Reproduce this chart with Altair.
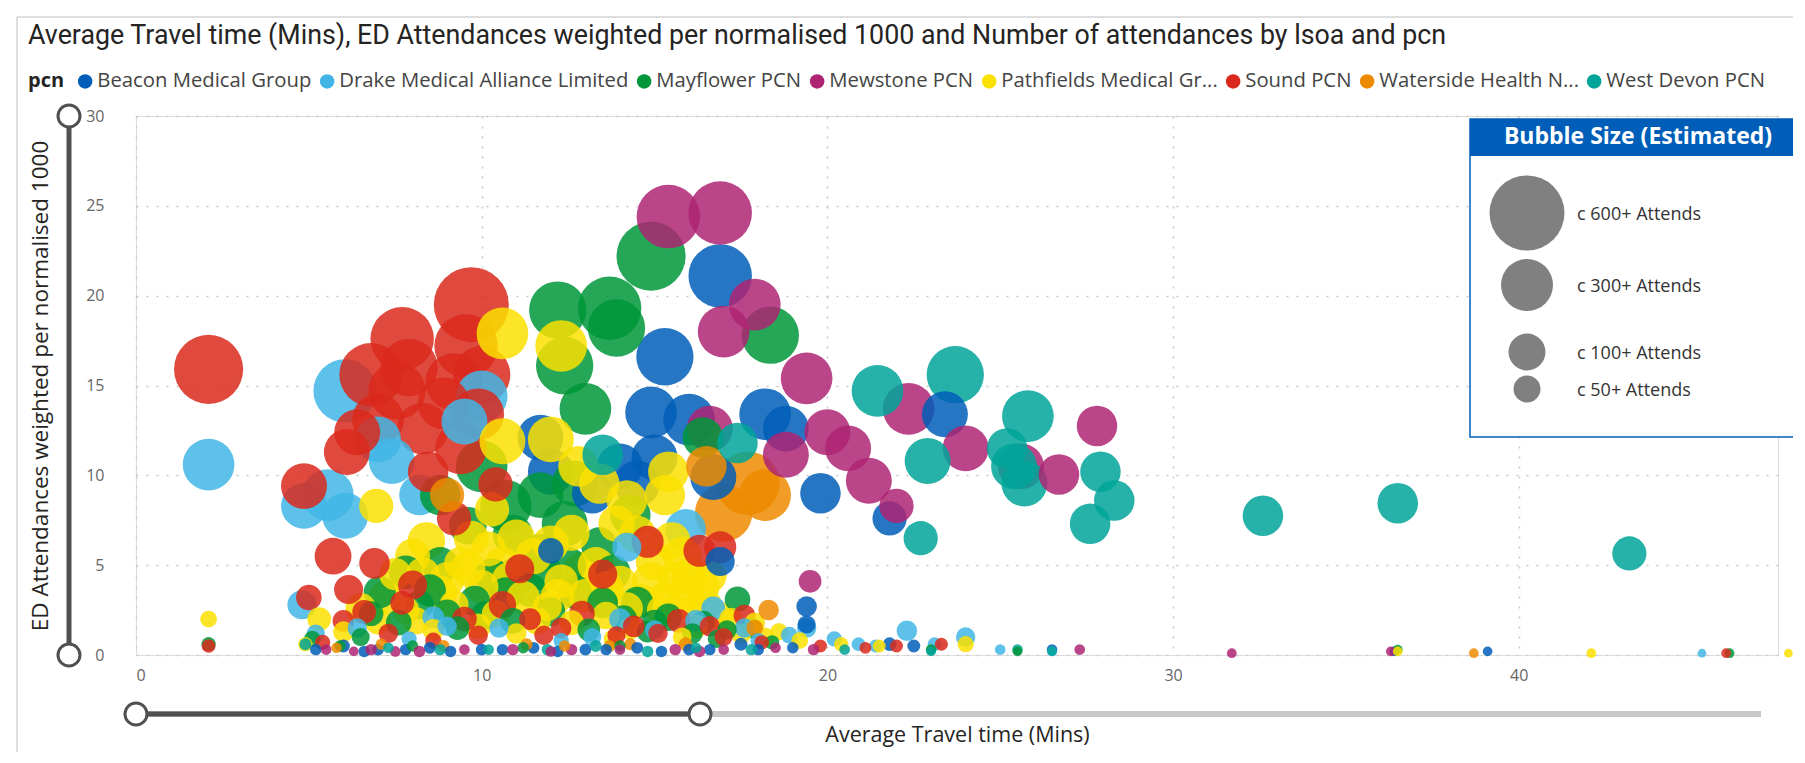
import altair as alt
import pandas as pd

# ---------------- data ----------------
pcn_names = ["Beacon Medical Group", "Drake Medical Alliance Limited", "Mayflower PCN",
             "Mewstone PCN", "Pathfields Medical Group", "Sound PCN",
             "Waterside Health Network", "West Devon PCN"]
pcn_colors = ["#005EB8", "#41B6E6", "#009639", "#AE2573", "#FAE100", "#DA291C",
              "#ED8B00", "#00A499"]

beacon_x = [16.9, 15.3, 14.9, 16.0, 18.2, 18.8, 11.7, 12.0, 14.0, 14.5, 16.7, 19.8, 23.4, 21.8, 16.9, 12.0, 13.2, 15.0,
            19.4, 19.4, 6.0, 7.0, 8.5, 10.0, 11.5, 13.0, 14.5, 16.0, 17.5, 21.8, 22.5, 26.5, 36.4, 39.1,
            5.2, 6.6, 7.8, 9.1, 10.6, 12.2, 13.6, 15.2, 16.6, 18.0, 19.0]
beacon_y = [21.1, 16.6, 13.5, 13.1, 13.4, 12.6, 12.1, 10.2, 10.5, 9.55, 9.9, 9.0, 13.4, 7.6, 5.2, 5.8, 9.0, 11.0,
            2.7, 1.7, 0.5, 0.3, 0.4, 0.3, 0.4, 0.3, 0.4, 0.3, 0.6, 0.6, 0.5, 0.3, 0.2, 0.2,
            0.3, 0.2, 0.3, 0.2, 0.3, 0.2, 0.3, 0.2, 0.3, 0.3, 0.4]
beacon_n = [430, 350, 285, 285, 285, 225, 225, 225, 225, 225, 225, 175, 225, 125, 90, 70, 175, 225,
            45, 35, 18, 15, 15, 15, 15, 15, 15, 15, 18, 20, 18, 12, 10, 10,
            14, 14, 14, 14, 14, 14, 14, 14, 14, 14, 14]

drake_x = [2.1, 6.05, 4.86, 5.55, 6.05, 7.4, 8.2, 10.0, 15.9, 4.8, 6.4, 7.9, 9.0, 12.3, 15.0, 17.6, 19.4, 20.9,
           22.3, 24.0, 25.0, 26.5, 45.3, 16.7, 14.2, 7.0, 9.5,
           5.2, 8.6, 10.5, 13.2, 14.0, 16.2, 18.9, 20.2, 21.4, 23.1, 18.0]
drake_y = [10.6, 14.7, 8.3, 8.9, 7.75, 10.8, 8.9, 14.4, 7.0, 2.8, 1.5, 0.9, 1.6, 0.8, 1.4, 1.5, 1.5, 0.6,
           1.35, 1.0, 0.3, 0.2, 0.1, 2.6, 6.0, 12.0, 13.0,
           1.2, 2.1, 1.5, 1.0, 2.0, 1.9, 1.1, 0.9, 0.5, 0.6, 0.8]
drake_n = [285, 430, 225, 285, 225, 225, 175, 285, 175, 90, 40, 25, 40, 25, 40, 40, 40, 20,
           45, 40, 12, 10, 8, 60, 90, 225, 225,
           35, 50, 40, 35, 50, 50, 30, 25, 18, 20, 25]

mayflower_x = [14.9, 13.7, 13.9, 12.2, 12.4, 18.35, 13.0, 10.0, 10.7, 11.7, 12.4, 8.8, 12.7, 11.0, 11.7, 16.4,
               7.05, 7.6, 8.2, 8.8, 9.3, 9.8, 10.3, 10.9, 11.4, 12.0, 12.5, 13.1, 13.5, 14.1, 14.8, 15.4, 16.1,
               16.8, 17.4, 17.8, 18.4, 6.5, 5.1, 2.1, 46.1, 36.5, 25.5, 23.0, 9.6, 14.3, 13.4,
               8.5, 9.0, 10.1, 10.7, 11.8, 12.7, 13.8, 14.5, 15.0, 16.4, 17.1, 6.8, 7.8, 10.9,
               5.9, 8.0, 11.2, 14.0]
mayflower_y = [22.2, 19.3, 18.2, 19.2, 16.1, 17.8, 13.7, 10.5, 8.3, 8.9, 7.3, 8.9, 9.55, 4.4, 5.7, 12.1,
               3.5, 1.8, 2.8, 5.0, 1.5, 3.0, 4.4, 1.9, 3.6, 2.4, 5.0, 1.4, 2.9, 2.0, 1.3, 2.1, 1.2,
               0.9, 3.1, 1.5, 0.7, 1.0, 0.9, 0.6, 0.1, 0.3, 0.2, 0.3, 7.2, 7.8, 6.1,
               3.6, 2.3, 2.2, 3.4, 4.6, 3.5, 4.6, 2.9, 1.8, 1.8, 1.4, 2.3, 4.6, 6.7,
               0.5, 0.5, 0.4, 0.5]
mayflower_n = [510, 430, 350, 350, 350, 350, 285, 285, 285, 225, 225, 175, 225, 150, 150, 175,
               110, 70, 90, 140, 60, 100, 130, 70, 120, 90, 140, 55, 100, 80, 50, 80, 45,
               35, 70, 45, 22, 35, 28, 22, 10, 10, 10, 12, 150, 175, 140,
               110, 85, 85, 120, 140, 120, 130, 110, 70, 60, 40, 65, 120, 170,
               14, 14, 14, 14]

mewstone_x = [15.4, 16.9, 17.0, 17.9, 19.4, 16.6, 18.8, 20.0, 20.6, 21.2, 22.0, 22.35, 24.0, 25.6, 26.7, 27.8,
              19.5, 5.5, 7.5, 9.5, 12.0, 14.0, 17.0, 18.5, 27.3, 31.7, 36.3, 6.3,
              6.8, 8.2, 10.9, 12.6, 15.6, 16.3, 19.6]
mewstone_y = [24.4, 24.6, 18.0, 19.5, 15.4, 12.6, 11.15, 12.4, 11.5, 9.7, 8.3, 13.7, 11.5, 10.5, 10.05, 12.75,
              4.1, 0.3, 0.2, 0.3, 0.2, 0.3, 0.3, 0.4, 0.3, 0.1, 0.2, 0.2,
              0.3, 0.2, 0.3, 0.3, 0.3, 0.2, 0.3]
mewstone_n = [430, 430, 285, 285, 285, 225, 225, 225, 225, 225, 125, 285, 225, 225, 175, 175,
              55, 12, 12, 12, 12, 12, 12, 12, 12, 10, 10, 10,
              14, 14, 14, 14, 14, 14, 14]

pathfields_x = [10.6, 12.3, 10.6, 12.0, 12.8, 13.4, 14.2, 15.4, 15.3, 10.3, 6.95, 8.4, 9.4, 11.0, 12.6, 14.5,
                15.5, 16.0, 16.4, 13.9, 10.2, 8.0, 7.5, 2.1, 7.2, 7.8, 8.3, 8.8, 9.2, 9.6, 10.0, 10.4, 10.8,
                11.2, 11.5, 11.9, 12.3, 12.6, 13.0, 13.3, 13.6, 14.0, 14.3, 14.6, 15.0, 15.2, 15.6, 15.9, 16.2,
                16.5, 16.9, 17.5, 18.2, 19.2, 20.4, 21.5, 5.3, 6.0, 4.9, 8.6, 11.0, 13.8, 15.8, 24.0, 42.1,
                47.8, 36.5,
                6.5, 7.0, 8.1, 9.0, 9.9, 10.6, 11.6, 12.2, 12.9, 13.6, 14.2, 14.9, 15.3, 15.8, 16.1, 16.6,
                17.2, 17.9, 18.6, 12.0, 9.7]
pathfields_y = [17.9, 17.2, 11.9, 12.0, 10.5, 9.55, 8.6, 10.2, 8.9, 8.1, 8.3, 6.35, 5.1, 6.5, 6.8, 6.7,
                6.35, 4.4, 3.8, 7.3, 5.9, 5.5, 4.5, 2.0, 3.2, 2.5, 4.5, 3.5, 2.8, 4.8, 3.8, 2.3, 4.2,
                3.2, 5.5, 2.7, 4.1, 1.8, 3.3, 5.0, 2.2, 4.0, 1.5, 3.0, 5.2, 2.5, 4.2, 3.4, 1.6,
                2.8, 2.2, 1.2, 1.0, 0.8, 0.6, 0.5, 2.0, 1.3, 0.6, 1.4, 1.2, 0.9, 1.0, 0.6, 0.1,
                0.1, 0.2,
                2.6, 1.9, 1.9, 4.2, 1.6, 5.0, 1.9, 3.3, 4.7, 3.7, 2.6, 4.1, 3.1, 5.5, 2.6, 4.4,
                2.0, 1.8, 1.3, 6.2, 6.5]
pathfields_n = [285, 285, 225, 225, 175, 175, 175, 175, 175, 125, 125, 150, 120, 150, 140, 150,
                150, 150, 120, 140, 130, 130, 110, 30, 120, 80, 120, 120, 90, 130, 120, 80, 130,
                120, 140, 90, 120, 65, 120, 140, 80, 130, 55, 120, 150, 90, 140, 130, 60,
                100, 80, 45, 38, 30, 22, 18, 60, 45, 22, 50, 45, 38, 38, 28, 10,
                8, 10,
                100, 80, 80, 130, 70, 140, 80, 120, 150, 130, 110, 150, 120, 160, 90, 120,
                55, 45, 32, 140, 130]

sound_x = [2.1, 4.86, 5.7, 6.4, 6.15, 6.8, 7.0, 7.7, 7.55, 7.9, 8.45, 8.9, 9.2, 9.7, 9.55, 10.0, 9.9, 9.4,
           6.9, 9.2, 10.4, 5.0, 6.6, 7.3, 8.0, 8.6, 9.5, 10.6, 11.8, 12.9, 14.4, 15.7, 17.0, 18.1, 19.8,
           21.1, 22.0, 23.3, 2.1, 46.0, 13.5, 16.3, 8.3, 6.1,
           6.0, 7.7, 9.9, 11.4, 12.3, 13.9, 15.1, 16.6, 17.6, 11.1, 14.8, 16.9, 5.4]
sound_y = [15.9, 9.4, 5.5, 12.4, 3.65, 15.6, 13.1, 17.6, 14.7, 16.0, 10.2, 14.0, 15.2, 19.5, 17.2, 15.6, 13.4, 11.5,
           5.1, 7.6, 9.5, 3.2, 2.4, 1.2, 3.9, 0.8, 2.0, 2.8, 1.1, 2.3, 1.6, 1.9, 1.0, 0.7, 0.5,
           0.4, 0.5, 0.6, 0.5, 0.1, 4.5, 5.8, 12.6, 11.3,
           1.9, 2.9, 1.1, 2.0, 1.5, 1.1, 1.2, 1.6, 2.2, 4.8, 6.3, 6.0, 0.7]
sound_n = [510, 225, 145, 225, 90, 430, 285, 430, 350, 350, 175, 285, 350, 600, 430, 350, 285, 285,
           100, 125, 125, 70, 60, 40, 90, 28, 65, 80, 40, 70, 50, 60, 35, 22, 18,
           15, 18, 18, 20, 10, 90, 110, 285, 225,
           50, 60, 40, 50, 45, 35, 40, 45, 50, 90, 110, 110, 25]

waterside_x = [17.7, 17.0, 18.2, 9.0, 18.3, 17.9, 5.8, 8.9, 11.3, 13.7, 15.9, 38.7, 16.5, 7.1, 12.4, 14.3]
waterside_y = [9.55, 7.9, 8.9, 8.9, 2.5, 1.5, 0.4, 0.5, 0.6, 0.5, 0.6, 0.1, 10.5, 0.6, 0.5, 0.6]
waterside_n = [430, 350, 285, 125, 45, 30, 12, 15, 15, 15, 20, 10, 175, 14, 14, 16]

westdevon_x = [21.45, 23.7, 22.9, 22.7, 25.4, 25.8, 25.7, 25.2, 27.6, 27.9, 28.3, 32.6, 36.5, 43.2, 13.5, 17.4,
               4.9, 7.3, 10.2, 13.3, 16.2, 25.5, 26.5, 20.5, 23.0, 8.8, 11.9, 14.8, 17.8]
westdevon_y = [14.7, 15.6, 10.8, 6.5, 10.5, 13.3, 9.55, 11.5, 7.3, 10.2, 8.6, 7.75, 8.45, 5.65, 11.15, 11.8,
               0.6, 0.4, 0.3, 0.5, 0.4, 0.3, 0.2, 0.3, 0.2, 0.3, 0.3, 0.2, 0.3]
westdevon_n = [285, 350, 225, 125, 225, 285, 225, 175, 175, 175, 175, 175, 175, 125, 175, 175,
               15, 12, 12, 15, 12, 12, 10, 12, 10, 14, 14, 14, 14]

x_ticks = [0, 10, 20, 30, 40]
y_ticks = [0, 5, 10, 15, 20, 25, 30]

size_key_labels = ["c 600+ Attends", "c 300+ Attends", "c 100+ Attends", "c 50+ Attends"]

series = [
    (pcn_names[0], beacon_x, beacon_y, beacon_n),
    (pcn_names[1], drake_x, drake_y, drake_n),
    (pcn_names[2], mayflower_x, mayflower_y, mayflower_n),
    (pcn_names[3], mewstone_x, mewstone_y, mewstone_n),
    (pcn_names[4], pathfields_x, pathfields_y, pathfields_n),
    (pcn_names[5], sound_x, sound_y, sound_n),
    (pcn_names[6], waterside_x, waterside_y, waterside_n),
    (pcn_names[7], westdevon_x, westdevon_y, westdevon_n),
]
rows = []
for name, xs, ys, ns in series:
    for xv, yv, nv in zip(xs, ys, ns):
        rows.append({"pcn": name, "travel": xv, "ed": yv, "att": nv})
df = pd.DataFrame(rows)
one = pd.DataFrame({"k": [0]})

# ---------------- layout (pixels relative to plot origin) ----------------
W, H = 1642, 539
FONT = "Segoe UI, Open Sans, sans-serif"
DARK = "#505050"

label_expr = ("datum.label == 'Pathfields Medical Group' ? 'Pathfields Medical Gr...' : "
              "datum.label == 'Waterside Health Network' ? 'Waterside Health N...' : datum.label")

x_enc = alt.X("travel:Q", scale=alt.Scale(domain=[0, 47.5], nice=False, zero=False),
              axis=alt.Axis(values=x_ticks, title="Average Travel time (Mins)", grid=True,
                            gridColor="#C8C8C8", gridDash=[2, 8], gridWidth=1.5, domain=False,
                            ticks=False, labelColor="#666666", labelFont=FONT, labelFontSize=16,
                            labelPadding=12, titleFont=FONT, titleFontSize=21.5, titleFontWeight="normal",
                            titleColor="#252423", titleY=80, titleBaseline="middle"))
y_enc = alt.Y("ed:Q", scale=alt.Scale(domain=[0, 30], nice=False),
              axis=alt.Axis(values=y_ticks, title="ED Attendances weighted per normalised 1000", grid=True,
                            gridColor="#C8C8C8", gridDash=[2, 8], gridWidth=1.5, domain=False,
                            ticks=False, labelColor="#666666", labelFont=FONT, labelFontSize=16,
                            labelPadding=32, titleFont=FONT, titleFontSize=22.5, titleFontWeight="normal",
                            titleColor="#252423", titleX=-96, titleY=H / 2, titleAngle=-90,
                            titleBaseline="middle", titleAlign="center"))

bubbles = alt.Chart(df).mark_circle(opacity=0.85, strokeWidth=0).encode(
    x=x_enc, y=y_enc,
    color=alt.Color("pcn:N", scale=alt.Scale(domain=pcn_names, range=pcn_colors),
                    legend=alt.Legend(orient="none", legendX=-108, legendY=-45, direction="horizontal",
                                      title="pcn", titleOrient="left", titleFont=FONT,
                                      titleFontWeight="bold", titleFontSize=20, titleColor="#252423",
                                      titlePadding=10, titleBaseline="middle",
                                      labelFont=FONT, labelFontSize=20.3, labelColor="#444444",
                                      labelExpr=label_expr, labelLimit=500, labelOffset=2,
                                      symbolType="circle", symbolSize=210, symbolStrokeWidth=0,
                                      symbolOpacity=1, columnPadding=5)),
    size=alt.Size("att:Q", scale=alt.Scale(domain=[0, 600], range=[0, 5625]), legend=None),
    order=alt.Order("att:Q", sort="descending"),
    tooltip=["pcn", "travel", "ed", "att"],
)

layers = []
# outer visual frame
layers.append(alt.Chart(one).mark_rect(fillOpacity=0, stroke="#BDBDBD", strokeWidth=1).encode(
    x=alt.value(-119), x2=alt.value(1662), y=alt.value(-99), y2=alt.value(650)))
# title
layers.append(alt.Chart(one).mark_text(
    text="Average Travel time (Mins), ED Attendances weighted per normalised 1000 and Number of attendances by lsoa and pcn",
    align="left", baseline="middle", font="Roboto", fontSize=26.8, color="#252423").encode(
    x=alt.value(-108), y=alt.value(-80)))
layers.append(bubbles)

# y range slider
layers.append(alt.Chart(one).mark_rule(color=DARK, strokeWidth=5).encode(
    x=alt.value(-67), y=alt.value(0), y2=alt.value(H)))
for yy in [0, H]:
    layers.append(alt.Chart(one).mark_circle(color="white", opacity=1, stroke=DARK, strokeWidth=3).encode(
        x=alt.value(-67), y=alt.value(yy), size=alt.value(484)))
# x range slider
layers.append(alt.Chart(one).mark_rule(color="#C8C8C8", strokeWidth=6).encode(
    x=alt.value(0), x2=alt.value(1625), y=alt.value(598)))
layers.append(alt.Chart(one).mark_rule(color=DARK, strokeWidth=5).encode(
    x=alt.value(0), x2=alt.value(564), y=alt.value(598)))
for xx in [0, 564]:
    layers.append(alt.Chart(one).mark_circle(color="white", opacity=1, stroke=DARK, strokeWidth=3).encode(
        x=alt.value(xx), y=alt.value(598), size=alt.value(484)))

# bubble size key box
layers.append(alt.Chart(one).mark_rect(fill="white", stroke="#005EB8", strokeWidth=1.5).encode(
    x=alt.value(1334), x2=alt.value(1700), y=alt.value(3), y2=alt.value(321)))
layers.append(alt.Chart(one).mark_rect(fill="#005EB8").encode(
    x=alt.value(1334), x2=alt.value(1700), y=alt.value(3), y2=alt.value(40)))
layers.append(alt.Chart(one).mark_text(text="Bubble Size (Estimated)", align="center", baseline="middle",
                                       font=FONT, fontSize=23, fontWeight="bold", color="white").encode(
    x=alt.value(1502), y=alt.value(21)))
key_px = [(97, 5625), (169, 2704), (236, 1369), (273, 729)]
for lab, (yy, sz) in zip(size_key_labels, key_px):
    layers.append(alt.Chart(one).mark_circle(color="#808080", opacity=1).encode(
        x=alt.value(1391), y=alt.value(yy), size=alt.value(sz)))
    layers.append(alt.Chart(one).mark_text(text=lab, align="left", baseline="middle", font=FONT,
                                           fontSize=18, color="#333333").encode(
        x=alt.value(1441), y=alt.value(yy + 2)))

chart = alt.layer(*layers).properties(
    width=W, height=H,
    autosize=alt.AutoSizeParams(type="none"),
    padding={"left": 128, "top": 108, "right": 15, "bottom": 97},
).configure_view(stroke=None).configure(background="white")

chart.save("out.html", embed_options={"renderer": "svg", "actions": False})
